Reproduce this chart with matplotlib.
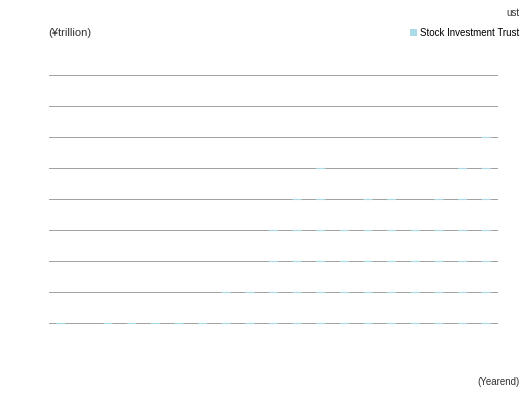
import numpy as np
import matplotlib
matplotlib.use("Agg")
import matplotlib.pyplot as plt
from matplotlib.path import Path
from matplotlib.transforms import IdentityTransform

years = list(range(1996, 2015))
stock_trust = [14, 8, 12, 13, 15, 17, 18, 23, 27, 45, 55, 65, 44, 53, 56, 47, 57, 68, 73]
grid_vals = [10, 20, 30, 40, 50, 60, 70, 80, 90, 100]

BLUE = "#aadbe6"
GREY = "#a2a2a2"

plt.rcParams["font.family"] = ["Liberation Sans", "DejaVu Sans"]

W, H = 526, 398
fig = plt.figure(figsize=(W / 100, H / 100), dpi=100)
# axes placed so every gridline sits on a pixel-row centre (31 px apart)
ax = fig.add_axes([49 / W, 43.5 / H, 449 / W, 310 / H])

x = np.arange(len(years))
bars = ax.bar(x, stock_trust, width=0.38, color=BLUE, zorder=3,
              label="Stock Investment Trust")

ax.set_xlim(-0.5, len(years) - 0.5)
ax.set_ylim(0, 100)
for g in grid_vals:
    ax.axhline(g, color=GREY, lw=0.72, zorder=2, snap=False)

for s in ax.spines.values():
    s.set_visible(False)
ax.set_xticks([])
ax.set_yticks([])

# bars only show where they cross the gridlines
fig.canvas.draw()
x0, x1 = ax.bbox.x0 - 5, ax.bbox.x1 + 5
verts, codes = [], []
for g in grid_vals:
    y = ax.transData.transform((0, g))[1]
    lo, hi = y - 0.6, y + 0.6
    verts += [(x0, lo), (x1, lo), (x1, hi), (x0, hi), (x0, lo)]
    codes += [Path.MOVETO, Path.LINETO, Path.LINETO, Path.LINETO, Path.CLOSEPOLY]
strips = Path(verts, codes)
for b in bars:
    b.set_snap(False)
    b.set_clip_path(strips, IdentityTransform())

leg = ax.legend(loc="center right", bbox_to_anchor=(0.987, 0.917),
                bbox_transform=fig.transFigure, frameon=False, fontsize=7,
                handlelength=0.7, handleheight=0.7, handletextpad=0.3,
                borderpad=0, borderaxespad=0)
for h in leg.legend_handles:
    h.set_clip_path(None)

fig.text(0.987, 0.968, "ust", ha="right", va="center", fontsize=7, color="#333333")
fig.text(0.091, 0.917, "(¥trillion)", ha="left", va="center", fontsize=8, color="#333333")
fig.text(0.987, 0.04, "(Yearend)", ha="right", va="center", fontsize=7, color="#333333")

fig.savefig("out.png", dpi=100)
